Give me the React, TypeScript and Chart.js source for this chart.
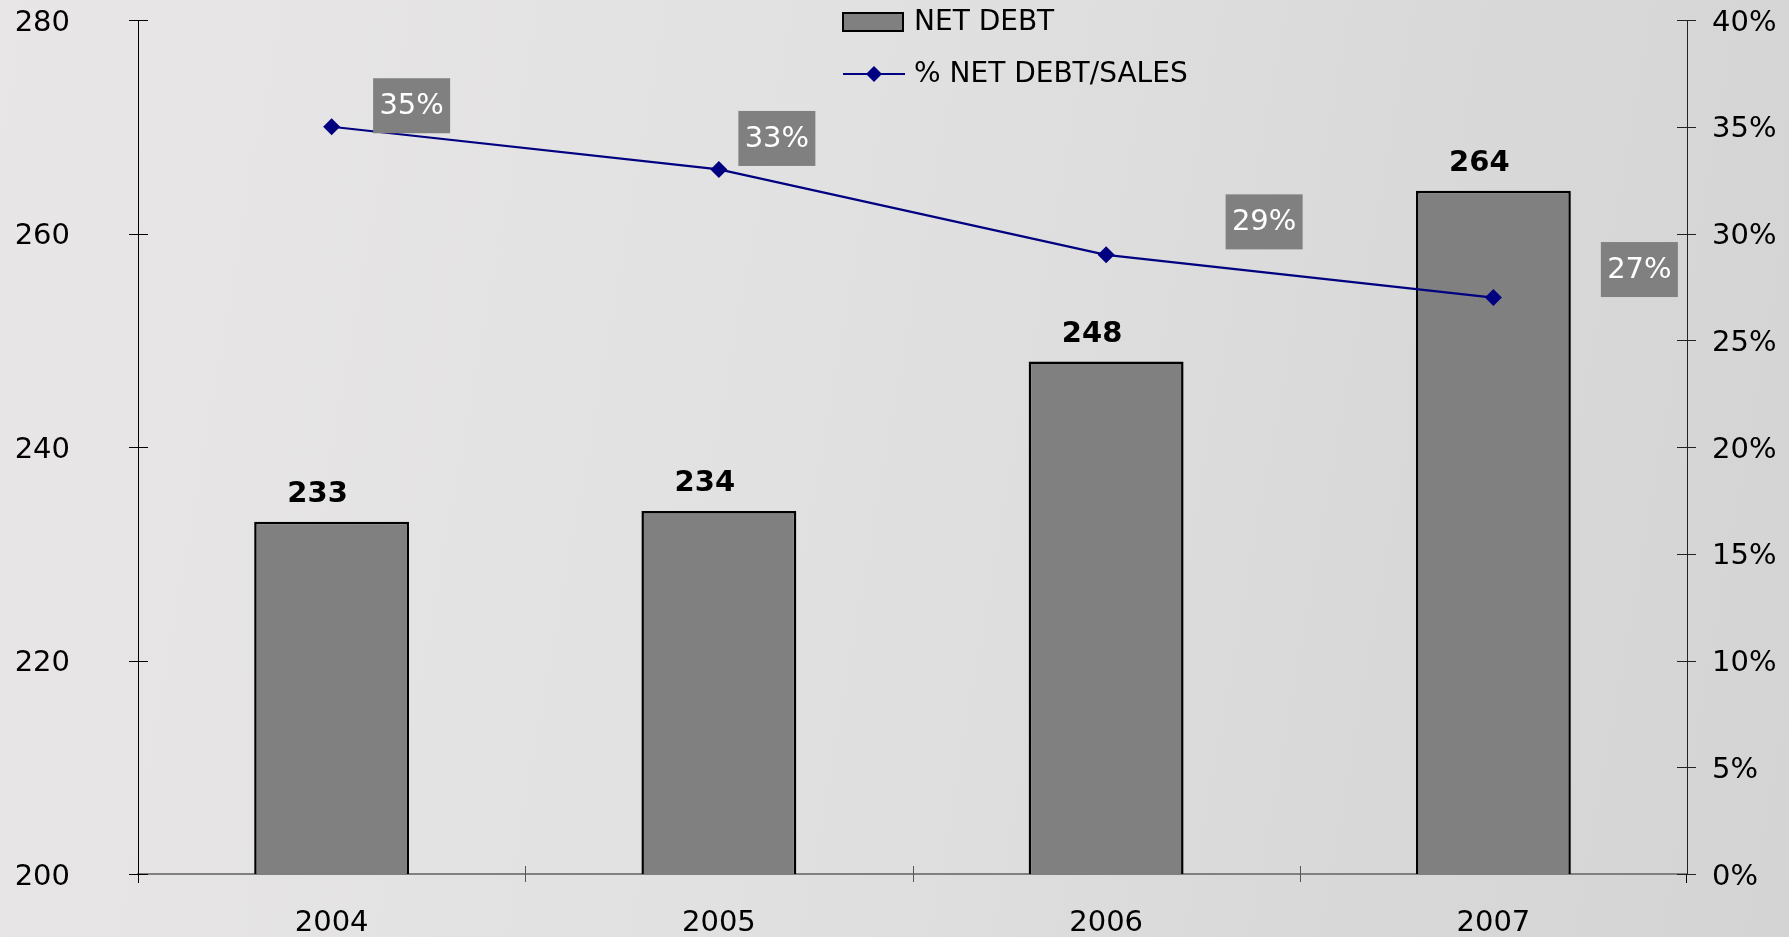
import React, { useEffect, useRef } from "react";
import { Chart, registerables } from "chart.js";

Chart.register(...registerables);

// ---- data ----
const YEARS = ["2004", "2005", "2006", "2007"];
const NET_DEBT = [233, 234, 248, 264];
const NET_DEBT_PCT_SALES = [35, 33, 29, 27];
const LEFT_AXIS = { min: 200, max: 280, step: 20 };
const RIGHT_AXIS = { min: 0, max: 40, step: 5 };
const LEGEND_LABELS = ["NET DEBT", "% NET DEBT/SALES"];

// ---- layout constants (label nudges, not data) ----
const PCT_LABEL_OFFSETS: [number, number][] = [
  [80, -21],
  [58, -31],
  [158, -33],
  [146, -28],
];

const FONT = "'DejaVu Sans', Verdana, sans-serif";
const BAR_FILL = "#808080";
const LINE_COLOR = "#000080";

function diamond(ctx: CanvasRenderingContext2D, x: number, y: number, r: number) {
  ctx.beginPath();
  ctx.moveTo(x, y - r);
  ctx.lineTo(x + r, y);
  ctx.lineTo(x, y + r);
  ctx.lineTo(x - r, y);
  ctx.closePath();
  ctx.fill();
}

const overlayPlugin = {
  id: "overlay",
  afterDatasetsDraw(chart: any) {
    const ctx: CanvasRenderingContext2D = chart.ctx;
    const area = chart.chartArea;
    const xs = chart.scales.x;
    const ys = chart.scales.y;
    const y1 = chart.scales.y1;
    ctx.save();

    // crossing tick marks
    ctx.lineWidth = 1;
    ctx.strokeStyle = "#000";
    ys.ticks.forEach((_t: any, i: number) => {
      const py = Math.round(ys.getPixelForTick(i)) + 0.5;
      ctx.beginPath();
      ctx.moveTo(area.left - 9, py);
      ctx.lineTo(area.left + 10, py);
      ctx.stroke();
    });
    ctx.strokeStyle = "#222";
    y1.ticks.forEach((_t: any, i: number) => {
      const py = Math.round(y1.getPixelForTick(i)) + 0.5;
      ctx.beginPath();
      ctx.moveTo(area.right - 10, py);
      ctx.lineTo(area.right + 9, py);
      ctx.stroke();
    });
    ctx.strokeStyle = "#555";
    for (let i = 0; i < YEARS.length - 1; i++) {
      const bx = Math.round((xs.getPixelForTick(i) + xs.getPixelForTick(i + 1)) / 2) + 0.5;
      ctx.beginPath();
      ctx.moveTo(bx, area.bottom - 8);
      ctx.lineTo(bx, area.bottom + 8);
      ctx.stroke();
    }
    ctx.strokeStyle = "#000";
    ctx.beginPath();
    ctx.moveTo(area.left + 0.5, area.bottom);
    ctx.lineTo(area.left + 0.5, area.bottom + 9);
    ctx.stroke();
    ctx.beginPath();
    ctx.moveTo(area.right - 0.5, area.bottom);
    ctx.lineTo(area.right - 0.5, area.bottom + 9);
    ctx.stroke();

    // bar value labels
    const barMeta = chart.getDatasetMeta(1);
    ctx.fillStyle = "#000";
    ctx.font = `bold 29px ${FONT}`;
    ctx.textAlign = "center";
    ctx.textBaseline = "alphabetic";
    barMeta.data.forEach((el: any, i: number) => {
      ctx.fillText(String(NET_DEBT[i]), el.x - 14, el.y - 20);
    });

    // percentage boxes
    const lineMeta = chart.getDatasetMeta(0);
    ctx.font = `29px ${FONT}`;
    ctx.textBaseline = "middle";
    lineMeta.data.forEach((el: any, i: number) => {
      const [dx, dy] = PCT_LABEL_OFFSETS[i];
      const cx = el.x + dx;
      const cy = el.y + dy;
      const w = 77;
      const h = 55;
      ctx.fillStyle = BAR_FILL;
      ctx.fillRect(cx - w / 2, cy - h / 2, w, h);
      ctx.fillStyle = "#fff";
      ctx.fillText(`${NET_DEBT_PCT_SALES[i]}%`, cx, cy + 1);
    });

    // legend
    const lx = 843;
    ctx.fillStyle = BAR_FILL;
    ctx.fillRect(lx, 13, 60, 18);
    ctx.strokeStyle = "#000";
    ctx.lineWidth = 2;
    ctx.strokeRect(lx, 13, 60, 18);
    ctx.strokeStyle = LINE_COLOR;
    ctx.lineWidth = 2;
    ctx.beginPath();
    ctx.moveTo(lx, 74);
    ctx.lineTo(lx + 62, 74);
    ctx.stroke();
    ctx.fillStyle = LINE_COLOR;
    diamond(ctx, lx + 31, 74, 8);
    ctx.fillStyle = "#000";
    ctx.font = `28px ${FONT}`;
    ctx.textAlign = "left";
    ctx.textBaseline = "middle";
    ctx.fillText(LEGEND_LABELS[0], 914, 23);
    ctx.fillText(LEGEND_LABELS[1], 914, 75);

    ctx.restore();
  },
};

export default function App() {
  const canvasRef = useRef<HTMLCanvasElement | null>(null);

  useEffect(() => {
    document.body.style.margin = "0";
    const canvas = canvasRef.current;
    if (!canvas) return;
    const chart = new Chart(canvas, {
      type: "bar",
      data: {
        labels: YEARS,
        datasets: [
          {
            type: "line",
            label: LEGEND_LABELS[1],
            data: NET_DEBT_PCT_SALES,
            yAxisID: "y1",
            borderColor: LINE_COLOR,
            backgroundColor: LINE_COLOR,
            borderWidth: 2.2,
            pointStyle: "rectRot",
            pointRadius: 8.5,
            pointBorderWidth: 0,
            tension: 0,
            order: 0,
          } as any,
          {
            type: "bar",
            label: LEGEND_LABELS[0],
            data: NET_DEBT,
            yAxisID: "y",
            backgroundColor: BAR_FILL,
            borderColor: "#000",
            borderWidth: 2.5,
            borderSkipped: false,
            barPercentage: 0.4,
            categoryPercentage: 1,
            order: 1,
          } as any,
        ],
      },
      options: {
        animation: false,
        responsive: true,
        maintainAspectRatio: false,
        layout: { padding: { top: 20, left: 0, right: 0, bottom: 0 } },
        plugins: { legend: { display: false }, tooltip: { enabled: false } },
        scales: {
          x: {
            offset: true,
            grid: { display: false, drawTicks: false },
            border: { display: true, color: "#808080", width: 2 },
            ticks: { color: "#000", font: { family: FONT, size: 29 }, padding: 32 },
            afterFit: (s: any) => {
              s.height = 63;
              s.paddingLeft = 0;
              s.paddingRight = 0;
            },
          },
          y: {
            position: "left",
            min: LEFT_AXIS.min,
            max: LEFT_AXIS.max,
            grid: { display: false, drawTicks: false },
            border: { display: true, color: "#000", width: 1 },
            ticks: {
              stepSize: LEFT_AXIS.step,
              color: "#000",
              font: { family: FONT, size: 29 },
              padding: 68,
              labelOffset: 3,
            },
            afterFit: (s: any) => {
              s.width = 138;
              s.paddingTop = 0;
              s.paddingBottom = 0;
            },
          },
          y1: {
            position: "right",
            min: RIGHT_AXIS.min,
            max: RIGHT_AXIS.max,
            grid: { display: false, drawTicks: false },
            border: { display: true, color: "#222", width: 1 },
            ticks: {
              stepSize: RIGHT_AXIS.step,
              color: "#000",
              font: { family: FONT, size: 29 },
              padding: 25,
              labelOffset: 3,
              callback: (v: any) => `${v}%`,
            },
            afterFit: (s: any) => {
              s.width = 102;
              s.paddingTop = 0;
              s.paddingBottom = 0;
            },
          },
        },
      },
      plugins: [overlayPlugin],
    });
    return () => chart.destroy();
  }, []);

  return (
    <div
      style={{
        position: "fixed",
        left: 0,
        top: 0,
        width: 1789,
        height: 937,
        background:
          "linear-gradient(100deg, #e8e6e7 0%, #e2e1e1 45%, #d9d9d9 75%, #d4d4d4 100%)",
      }}
    >
      <canvas ref={canvasRef} />
    </div>
  );
}
